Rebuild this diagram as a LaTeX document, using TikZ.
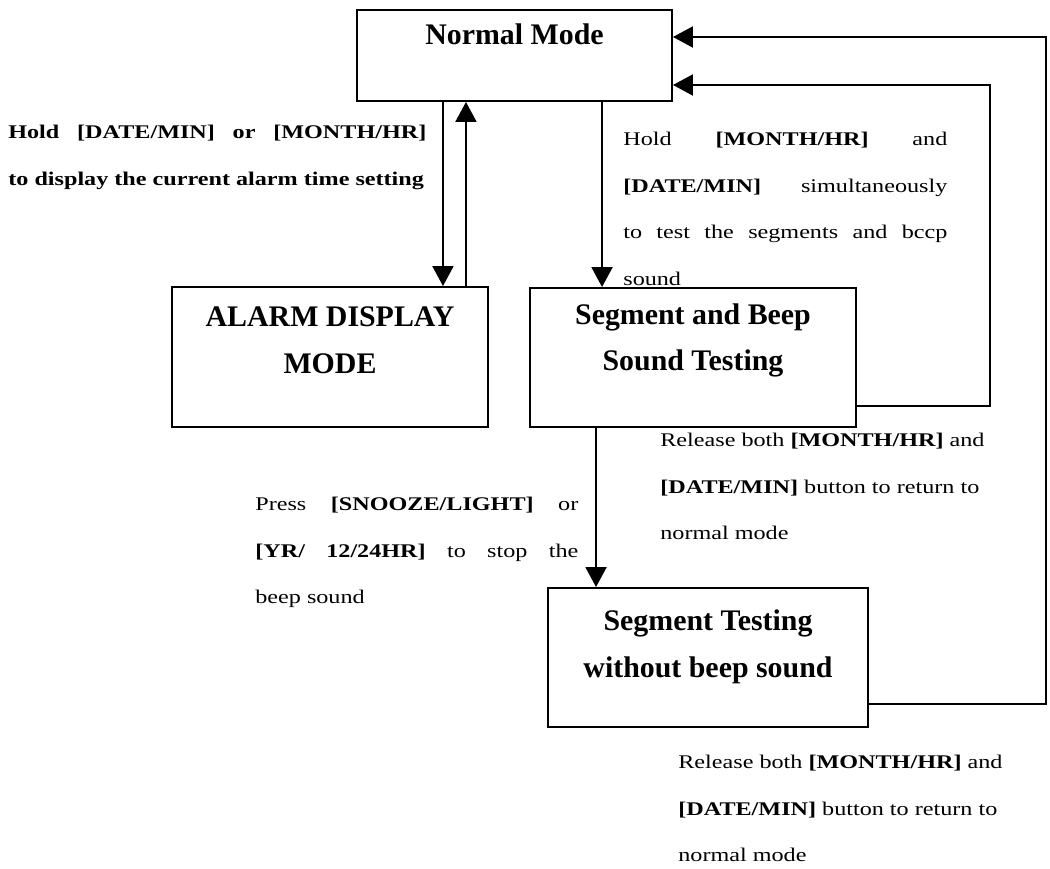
\documentclass[tikz,border=0pt]{standalone}
\usepackage{fontspec}
\setmainfont{Liberation Serif}
\newfontfamily\lblfont[FakeStretch=1.25]{Liberation Serif}
\usetikzlibrary{arrows.meta,positioning}

\begin{document}
\begin{tikzpicture}[
        modebox/.style={draw, black, line width=1.1pt, inner sep=0pt},
        modetext/.style={font=\fontsize{17}{26.5}\selectfont\bfseries, align=center, inner sep=0pt},
        lbl/.style={font=\lblfont\fontsize{11}{26.5}\selectfont, inner sep=0pt, anchor=north west},
        arr/.style={black, line width=1.2pt, -{Triangle[length=0.4cm,width=0.42cm]}}
    ]
        \useasboundingbox (0,0) rectangle (21,-17.38);
        % The four modes.
            \node[modebox, minimum width=6.3cm, minimum height=1.82cm] (normal) at (10.29,-1.11) {};
            \node[modetext] (normaltxt) at ([yshift=-0.5cm]normal.north) {Normal Mode};
            \node[modebox, minimum width=6.32cm, minimum height=2.8cm] (alarm) at (6.6,-7.14) {};
            \node[modetext] (alarmtxt) at ([yshift=-1.09cm]alarm.north) {ALARM DISPLAY\\MODE};
            \node[modebox, minimum width=6.52cm, minimum height=2.78cm] (seg) at (13.86,-7.15) {};
            \node[modetext] (segtxt) at ([yshift=-1.07cm]seg.north) {Segment and Beep\\Sound Testing};
            \node[modebox, minimum width=6.4cm, minimum height=2.78cm] (segtest) at (14.16,-13.15) {};
            \node[modetext] (segtesttxt) at ([yshift=-1.19cm]segtest.north) {Segment Testing\\without beep sound};
        % Corners of the two return lines.
            \coordinate (retone) at (19.8,-1.7);
            \coordinate (rettwo) at (20.92,-0.74);
        % Arrows between the modes.
            \draw[arr] ([xshift=-0.92cm]alarm.north east |- normal.south) -- ([xshift=-0.92cm]alarm.north east);
            \draw[arr] ([xshift=-0.46cm]alarm.north east) -- ([xshift=-0.46cm]alarm.north east |- normal.south);
            \draw[arr] ([xshift=1.46cm]seg.north west |- normal.south) -- ([xshift=1.46cm]seg.north west);
            \draw[arr] ([xshift=1.34cm]seg.south west) -- ([xshift=1.34cm]seg.south west |- segtest.north);
            \draw[arr] ([yshift=0.44cm]seg.south east) -| (retone) -- (retone -| normal.east);
            \draw[arr] ([yshift=0.48cm]segtest.south east) -| (rettwo) -- (rettwo -| normal.east);
        % Below nodes are the labels.
            \node[lbl, text width=8.36cm, align=justify, font={\lblfont\fontsize{11}{26.5}\selectfont\bfseries}] (holdone) at (0.16,-2.5) {Hold [DATE/MIN] or [MONTH/HR]\linebreak to display the current alarm time setting};
            \node[lbl, text width=6.48cm, align=justify] (holdtwo) at (12.46,-2.64) {Hold \textbf{[MONTH/HR]} and\linebreak \textbf{[DATE/MIN]} simultaneously\linebreak to test the segments and bccp\linebreak sound};
            \node[lbl, text width=6.46cm, align=justify] (press) at (5.1,-9.94) {Press \textbf{[SNOOZE/LIGHT]} or\linebreak \textbf{[YR/ 12/24HR]} to stop the\linebreak beep sound};
            \node[lbl, align=left] (releaseone) at (13.2,-8.66) {Release both \textbf{[MONTH/HR]} and\\\textbf{[DATE/MIN]} button to return to\\normal mode};
            \node[lbl, align=left] (releasetwo) at (13.56,-15.1) {Release both \textbf{[MONTH/HR]} and\\\textbf{[DATE/MIN]} button to return to\\normal mode};
    \end{tikzpicture}
\end{document}
